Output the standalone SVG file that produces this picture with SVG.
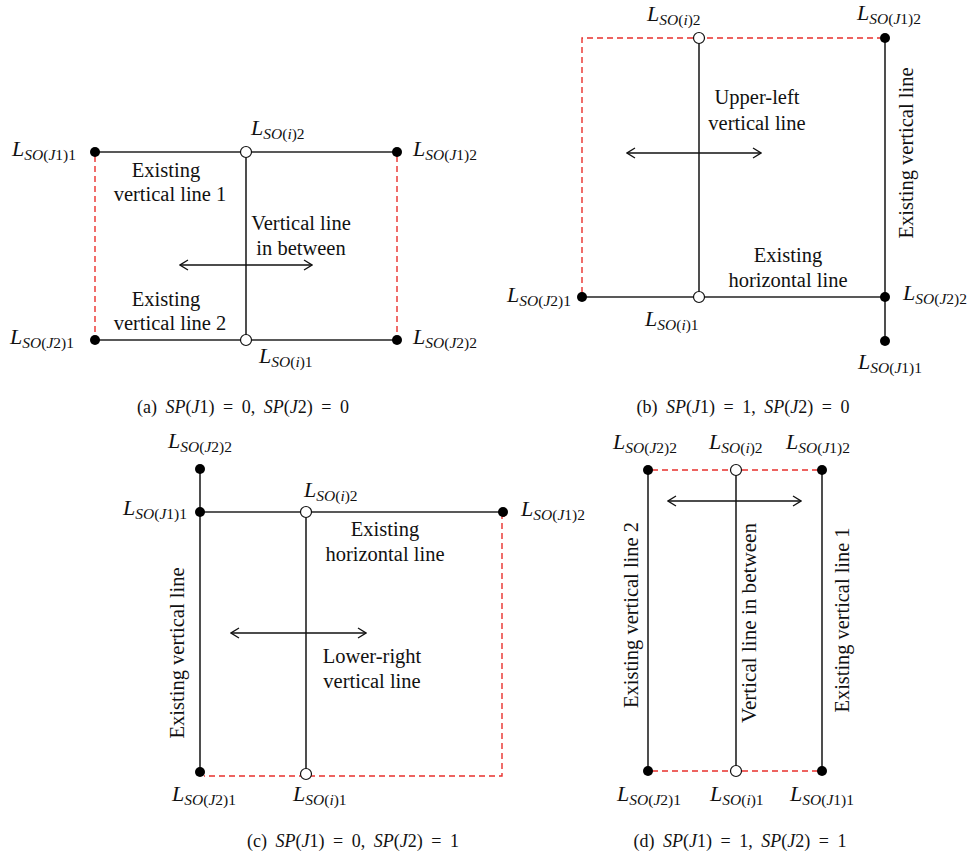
<svg xmlns="http://www.w3.org/2000/svg" width="971" height="859" viewBox="0 0 971 859">
<style>
text{font-family:"Liberation Serif","Times New Roman",serif;fill:#111}
.t{font-size:20.5px}
.c{font-size:18px;word-spacing:4px}
.lb{font-size:22px}
.it{font-style:italic}
.up{font-style:normal}
.s{font-size:15.5px}
.ln{stroke:#222;stroke-width:1.6;fill:none}
.rd{stroke:#e8302c;stroke-width:1.4;stroke-dasharray:6 4;fill:none}
.ar{stroke:#111;stroke-width:1.3;fill:none;marker-start:url(#ah);marker-end:url(#ah)}
.fd{fill:#000}
.od{fill:#fff;stroke:#111;stroke-width:1.2}
</style>
<defs>
<marker id="ah" viewBox="0 0 10 12" refX="9" refY="6" markerWidth="10" markerHeight="12" markerUnits="userSpaceOnUse" orient="auto-start-reverse">
<path d="M1,1 L9,6 L1,11" fill="none" stroke="#111" stroke-width="1.3"/>
</marker>
</defs>

<!-- Panel (a) -->
<g id="panel-a">
<g id="a-connectors">
<line class="rd" x1="95" y1="156" x2="95" y2="336"/>
<line class="rd" x1="397" y1="156" x2="397" y2="336"/>
<line class="ln" x1="95" y1="152" x2="397" y2="152"/>
<line class="ln" x1="95" y1="340" x2="397" y2="340"/>
<line class="ln" x1="246" y1="152" x2="246" y2="340"/>
<line class="ar" x1="180" y1="265" x2="312" y2="265"/>
</g>
<g id="a-n1"><circle class="fd" cx="95" cy="152" r="5"/><text class="lb it" x="12" y="156">L<tspan class="s" dy="4">SO</tspan><tspan class="s up">(</tspan><tspan class="s">J</tspan><tspan class="s up">1)1</tspan></text></g>
<g id="a-n2"><circle class="fd" cx="397" cy="152" r="5"/><text class="lb it" x="413" y="156">L<tspan class="s" dy="4">SO</tspan><tspan class="s up">(</tspan><tspan class="s">J</tspan><tspan class="s up">1)2</tspan></text></g>
<g id="a-n3"><circle class="fd" cx="95" cy="340" r="5"/><text class="lb it" x="10" y="344">L<tspan class="s" dy="4">SO</tspan><tspan class="s up">(</tspan><tspan class="s">J</tspan><tspan class="s up">2)1</tspan></text></g>
<g id="a-n4"><circle class="fd" cx="397" cy="340" r="5"/><text class="lb it" x="413" y="344">L<tspan class="s" dy="4">SO</tspan><tspan class="s up">(</tspan><tspan class="s">J</tspan><tspan class="s up">2)2</tspan></text></g>
<g id="a-n5"><circle class="od" cx="246" cy="152" r="5.5"/><text class="lb it" x="251" y="135">L<tspan class="s" dy="4">SO</tspan><tspan class="s up">(</tspan><tspan class="s">i</tspan><tspan class="s up">)2</tspan></text></g>
<g id="a-n6"><circle class="od" cx="246" cy="340" r="5.5"/><text class="lb it" x="259" y="363">L<tspan class="s" dy="4">SO</tspan><tspan class="s up">(</tspan><tspan class="s">i</tspan><tspan class="s up">)1</tspan></text></g>
<text class="t" x="166" y="177" text-anchor="middle">Existing</text>
<text class="t" x="170" y="201" text-anchor="middle">vertical line 1</text>
<text class="t" x="301" y="230" text-anchor="middle">Vertical line</text>
<text class="t" x="301" y="255" text-anchor="middle">in between</text>
<text class="t" x="166" y="306" text-anchor="middle">Existing</text>
<text class="t" x="170" y="330" text-anchor="middle">vertical line 2</text>
<text class="c" x="243" y="413" text-anchor="middle">(a)  <tspan class="it">SP</tspan>(<tspan class="it">J</tspan>1) = 0, <tspan class="it">SP</tspan>(<tspan class="it">J</tspan>2) = 0</text>
</g>

<!-- Panel (b) -->
<g id="panel-b">
<g id="b-connectors">
<polyline class="rd" points="582,293 582,38 880,38"/>
<line class="ln" x1="582" y1="297" x2="885" y2="297"/>
<line class="ln" x1="699" y1="38" x2="699" y2="297"/>
<line class="ln" x1="885" y1="38" x2="885" y2="341"/>
<line class="ar" x1="627" y1="153" x2="761" y2="153"/>
</g>
<g id="b-n1"><circle class="od" cx="699" cy="38" r="5.5"/><text class="lb it" x="647" y="21">L<tspan class="s" dy="4">SO</tspan><tspan class="s up">(</tspan><tspan class="s">i</tspan><tspan class="s up">)2</tspan></text></g>
<g id="b-n2"><circle class="fd" cx="885" cy="38" r="5"/><text class="lb it" x="857" y="20">L<tspan class="s" dy="4">SO</tspan><tspan class="s up">(</tspan><tspan class="s">J</tspan><tspan class="s up">1)2</tspan></text></g>
<g id="b-n3"><circle class="fd" cx="582" cy="297" r="5"/><text class="lb it" x="507" y="302">L<tspan class="s" dy="4">SO</tspan><tspan class="s up">(</tspan><tspan class="s">J</tspan><tspan class="s up">2)1</tspan></text></g>
<g id="b-n4"><circle class="od" cx="699" cy="297" r="5.5"/><text class="lb it" x="645" y="326">L<tspan class="s" dy="4">SO</tspan><tspan class="s up">(</tspan><tspan class="s">i</tspan><tspan class="s up">)1</tspan></text></g>
<g id="b-n5"><circle class="fd" cx="885" cy="297" r="5"/><text class="lb it" x="903" y="300">L<tspan class="s" dy="4">SO</tspan><tspan class="s up">(</tspan><tspan class="s">J</tspan><tspan class="s up">2)2</tspan></text></g>
<g id="b-n6"><circle class="fd" cx="885" cy="341" r="5"/><text class="lb it" x="858" y="369">L<tspan class="s" dy="4">SO</tspan><tspan class="s up">(</tspan><tspan class="s">J</tspan><tspan class="s up">1)1</tspan></text></g>
<text class="t" x="757" y="104" text-anchor="middle">Upper-left</text>
<text class="t" x="757" y="130" text-anchor="middle">vertical line</text>
<text class="t" x="788" y="262" text-anchor="middle">Existing</text>
<text class="t" x="788" y="287" text-anchor="middle">horizontal line</text>
<text class="t" transform="translate(913,153) rotate(-90)" text-anchor="middle" textLength="171" lengthAdjust="spacingAndGlyphs">Existing vertical line</text>
<text class="c" x="743" y="413" text-anchor="middle">(b)  <tspan class="it">SP</tspan>(<tspan class="it">J</tspan>1) = 1, <tspan class="it">SP</tspan>(<tspan class="it">J</tspan>2) = 0</text>
</g>

<!-- Panel (c) -->
<g id="panel-c">
<g id="c-connectors">
<polyline class="rd" points="505,516 502,516 502,776 204,776"/>
<line class="ln" x1="200" y1="469" x2="200" y2="773"/>
<line class="ln" x1="200" y1="512" x2="503" y2="512"/>
<line class="ln" x1="306" y1="512" x2="306" y2="774"/>
<line class="ar" x1="231" y1="633" x2="366" y2="633"/>
</g>
<g id="c-n1"><circle class="fd" cx="200" cy="469" r="5"/><text class="lb it" x="168" y="448">L<tspan class="s" dy="4">SO</tspan><tspan class="s up">(</tspan><tspan class="s">J</tspan><tspan class="s up">2)2</tspan></text></g>
<g id="c-n2"><circle class="fd" cx="200" cy="512" r="5"/><text class="lb it" x="123" y="515">L<tspan class="s" dy="4">SO</tspan><tspan class="s up">(</tspan><tspan class="s">J</tspan><tspan class="s up">1)1</tspan></text></g>
<g id="c-n3"><circle class="od" cx="306" cy="512" r="5.5"/><text class="lb it" x="304" y="497">L<tspan class="s" dy="4">SO</tspan><tspan class="s up">(</tspan><tspan class="s">i</tspan><tspan class="s up">)2</tspan></text></g>
<g id="c-n4"><circle class="fd" cx="503" cy="512" r="5"/><text class="lb it" x="521" y="516">L<tspan class="s" dy="4">SO</tspan><tspan class="s up">(</tspan><tspan class="s">J</tspan><tspan class="s up">1)2</tspan></text></g>
<g id="c-n5"><circle class="fd" cx="200" cy="772" r="5"/><text class="lb it" x="172" y="801">L<tspan class="s" dy="4">SO</tspan><tspan class="s up">(</tspan><tspan class="s">J</tspan><tspan class="s up">2)1</tspan></text></g>
<g id="c-n6"><circle class="od" cx="306" cy="774" r="5.5"/><text class="lb it" x="293" y="801">L<tspan class="s" dy="4">SO</tspan><tspan class="s up">(</tspan><tspan class="s">i</tspan><tspan class="s up">)1</tspan></text></g>
<text class="t" x="385" y="536" text-anchor="middle">Existing</text>
<text class="t" x="385" y="561" text-anchor="middle">horizontal line</text>
<text class="t" x="372" y="663" text-anchor="middle">Lower-right</text>
<text class="t" x="372" y="688" text-anchor="middle">vertical line</text>
<text class="t" transform="translate(184,653) rotate(-90)" text-anchor="middle" textLength="171" lengthAdjust="spacingAndGlyphs">Existing vertical line</text>
<text class="c" x="353" y="847" text-anchor="middle">(c)  <tspan class="it">SP</tspan>(<tspan class="it">J</tspan>1) = 0, <tspan class="it">SP</tspan>(<tspan class="it">J</tspan>2) = 1</text>
</g>

<!-- Panel (d) -->
<g id="panel-d">
<g id="d-connectors">
<line class="rd" x1="652" y1="470" x2="818" y2="470"/>
<line class="rd" x1="652" y1="771" x2="818" y2="771"/>
<line class="ln" x1="648" y1="470" x2="648" y2="771"/>
<line class="ln" x1="736" y1="470" x2="736" y2="771"/>
<line class="ln" x1="822" y1="470" x2="822" y2="771"/>
<line class="ar" x1="668" y1="501" x2="801" y2="501"/>
</g>
<g id="d-n1"><circle class="fd" cx="648" cy="470" r="5"/><text class="lb it" x="613" y="449">L<tspan class="s" dy="4">SO</tspan><tspan class="s up">(</tspan><tspan class="s">J</tspan><tspan class="s up">2)2</tspan></text></g>
<g id="d-n2"><circle class="od" cx="736" cy="470" r="5.5"/><text class="lb it" x="709" y="449">L<tspan class="s" dy="4">SO</tspan><tspan class="s up">(</tspan><tspan class="s">i</tspan><tspan class="s up">)2</tspan></text></g>
<g id="d-n3"><circle class="fd" cx="822" cy="470" r="5"/><text class="lb it" x="786" y="449">L<tspan class="s" dy="4">SO</tspan><tspan class="s up">(</tspan><tspan class="s">J</tspan><tspan class="s up">1)2</tspan></text></g>
<g id="d-n4"><circle class="fd" cx="648" cy="771" r="5"/><text class="lb it" x="617" y="801">L<tspan class="s" dy="4">SO</tspan><tspan class="s up">(</tspan><tspan class="s">J</tspan><tspan class="s up">2)1</tspan></text></g>
<g id="d-n5"><circle class="od" cx="736" cy="771" r="5.5"/><text class="lb it" x="710" y="801">L<tspan class="s" dy="4">SO</tspan><tspan class="s up">(</tspan><tspan class="s">i</tspan><tspan class="s up">)1</tspan></text></g>
<g id="d-n6"><circle class="fd" cx="822" cy="771" r="5"/><text class="lb it" x="790" y="801">L<tspan class="s" dy="4">SO</tspan><tspan class="s up">(</tspan><tspan class="s">J</tspan><tspan class="s up">1)1</tspan></text></g>
<text class="t" transform="translate(638,615) rotate(-90)" text-anchor="middle" textLength="186" lengthAdjust="spacingAndGlyphs">Existing vertical line 2</text>
<text class="t" transform="translate(756,623) rotate(-90)" text-anchor="middle" textLength="200" lengthAdjust="spacingAndGlyphs">Vertical line in between</text>
<text class="t" transform="translate(849,620) rotate(-90)" text-anchor="middle" textLength="185" lengthAdjust="spacingAndGlyphs">Existing vertical line 1</text>
<text class="c" x="740" y="847" text-anchor="middle">(d)  <tspan class="it">SP</tspan>(<tspan class="it">J</tspan>1) = 1, <tspan class="it">SP</tspan>(<tspan class="it">J</tspan>2) = 1</text>
</g>
</svg>
